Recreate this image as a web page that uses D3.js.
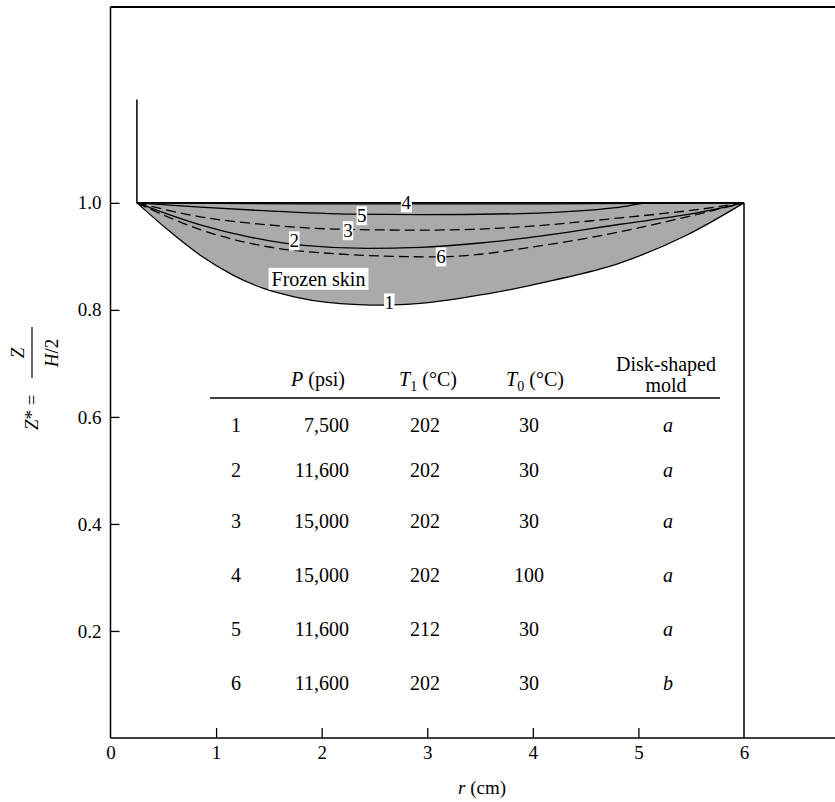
<!DOCTYPE html>
<html>
<head>
<meta charset="utf-8">
<script src="https://cdn.jsdelivr.net/npm/d3@7"></script>
<style>
  body { margin: 0; background: #fff; }
  text { font-family: "Liberation Serif", "Times New Roman", serif; fill: #000; }
</style>
</head>
<body>
<svg id="chart" width="835" height="802"></svg>
<script>
// Axis ticks
const rTicks = [0, 1, 2, 3, 4, 5, 6];
const zTicks = [0.2, 0.4, 0.6, 0.8, 1.0];

// Mold geometry (r in cm, Z* dimensionless)
const gateR = 0.25;
const gateTopZ = 1.193;
const wallR = 6.0;

// Frozen-skin boundaries, [r, Z*]
const curve1 = [[0.25,1.0],[0.54,0.950],[0.85,0.902],[1.16,0.865],[1.45,0.840],[1.75,0.824],[2.05,0.814],[2.35,0.810],[2.60,0.809],[2.93,0.812],[3.57,0.830],[4.19,0.855],[4.83,0.888],[5.46,0.940],[6.0,1.0]];
const curve2 = [[0.25,1.0],[0.85,0.959],[1.32,0.936],[1.80,0.921],[2.43,0.915],[2.93,0.917],[3.50,0.925],[3.88,0.933],[4.83,0.960],[5.60,0.983],[6.0,1.0]];
const curve3 = [[0.25,1.0],[0.85,0.974],[1.49,0.959],[2.12,0.951],[2.93,0.949],[3.50,0.951],[3.88,0.955],[4.83,0.972],[5.58,0.988],[6.0,1.0]];
const curve4 = [[0.25,1.0],[1.0,0.999],[2.0,0.998],[3.0,0.998],[4.0,0.998],[5.0,0.999],[6.0,1.0]];
const curve5 = [[0.25,1.0],[0.85,0.992],[1.49,0.985],[2.30,0.979],[2.93,0.978],[3.88,0.980],[4.51,0.986],[4.83,0.992],[5.11,1.0],[6.0,1.0]];
const curve6 = [[0.25,1.0],[0.85,0.950],[1.49,0.918],[2.12,0.905],[3.07,0.899],[3.50,0.904],[3.88,0.914],[4.83,0.946],[5.46,0.974],[6.0,1.0]];

// Curve tags and where they sit
const tagIds = ["4", "5", "3", "2", "6", "1"];
const tagR   = [2.80, 2.38, 2.25, 1.74, 3.13, 2.64];
const tagZ   = [1.000, 0.976, 0.948, 0.929, 0.899, 0.813];
const skinLabel = "Frozen skin";
const skinR = 1.97, skinZ = 0.858;

// Run conditions table
const runs     = ["1", "2", "3", "4", "5", "6"];
const pressure = ["7,500", "11,600", "15,000", "15,000", "11,600", "11,600"];
const tMelt    = ["202", "202", "202", "202", "212", "202"];
const tMold    = ["30", "30", "30", "100", "30", "30"];
const moldType = ["a", "a", "a", "a", "a", "b"];

const W = 835, H = 802;
const svg = d3.select("#chart");

const x = d3.scaleLinear().domain([0, 6]).range([110.5, 744]);
const y = d3.scaleLinear().domain([0, 1.366]).range([738, 7]);

// Frozen skin region
const area = d3.area()
  .x(d => x(d[0]))
  .y0(y(1))
  .y1(d => y(d[1]))
  .curve(d3.curveMonotoneX);
svg.append("path").datum(curve1)
  .attr("d", area)
  .attr("fill", "#aaaaaa");

// Boundary curves
const line = d3.line()
  .x(d => x(d[0]))
  .y(d => y(d[1]))
  .curve(d3.curveMonotoneX);
const curves = [
  {pts: curve1, dash: null},
  {pts: curve2, dash: null},
  {pts: curve3, dash: "10,5"},
  {pts: curve4, dash: null},
  {pts: curve5, dash: null},
  {pts: curve6, dash: "10,5"}
];
svg.append("g").selectAll("path").data(curves).join("path")
  .attr("d", d => line(d.pts))
  .attr("fill", "none")
  .attr("stroke", "#000")
  .attr("stroke-width", 1.3)
  .attr("stroke-dasharray", d => d.dash);

// Mold outline: top face, gate and end wall
const g = svg.append("g").attr("stroke", "#000").attr("fill", "none");
g.append("line").attr("x1", x(gateR)).attr("x2", x(wallR)).attr("y1", y(1)).attr("y2", y(1)).attr("stroke-width", 1.5);
g.append("line").attr("x1", x(gateR)).attr("x2", x(gateR)).attr("y1", y(1)).attr("y2", y(gateTopZ)).attr("stroke-width", 1.5);
g.append("line").attr("x1", x(wallR)).attr("x2", x(wallR)).attr("y1", y(0)).attr("y2", y(1)).attr("stroke-width", 1.5);

// Frame
g.append("line").attr("x1", x(0)).attr("x2", x(0)).attr("y1", y(0)).attr("y2", y(1.366)).attr("stroke-width", 1.5);
g.append("line").attr("x1", x(0)).attr("x2", W).attr("y1", y(1.366)).attr("y2", y(1.366)).attr("stroke-width", 1.8);
g.append("line").attr("x1", x(0)).attr("x2", W).attr("y1", y(0)).attr("y2", y(0)).attr("stroke-width", 1.5);

// Axes
const xAxis = svg.append("g")
  .attr("transform", `translate(0,${y(0)})`)
  .call(d3.axisBottom(x).tickValues(rTicks).tickSize(-10).tickPadding(8).tickFormat(d3.format("d")));
xAxis.select(".domain").remove();
xAxis.selectAll(".tick line").attr("stroke", "#000").attr("stroke-width", 1.3)
  .filter(d => d === 0 || d === 6).remove();
xAxis.selectAll(".tick text").attr("font-size", 19).attr("font-family", "Liberation Serif");

const yAxis = svg.append("g")
  .attr("transform", `translate(${x(0)},0)`)
  .call(d3.axisLeft(y).tickValues(zTicks).tickSize(-9).tickPadding(9).tickFormat(d3.format(".1f")));
yAxis.select(".domain").remove();
yAxis.selectAll(".tick line").attr("stroke", "#000").attr("stroke-width", 1.3);
yAxis.selectAll(".tick text").attr("font-size", 19).attr("font-family", "Liberation Serif");

// Axis titles
const xt = svg.append("text")
  .attr("x", 482).attr("y", 794)
  .attr("text-anchor", "middle").attr("font-size", 19);
xt.append("tspan").attr("font-style", "italic").text("r");
xt.append("tspan").text(" (cm)");

const yt = svg.append("g").attr("transform", "translate(32,430) rotate(-90)");
const yl = yt.append("text").attr("x", 0).attr("y", 6).attr("font-size", 19);
yl.append("tspan").attr("font-style", "italic").text("Z");
yl.append("tspan").text("* =");
yt.append("line").attr("x1", 52).attr("x2", 103).attr("y1", 0).attr("y2", 0)
  .attr("stroke", "#000").attr("stroke-width", 1.2);
yt.append("text").attr("x", 77).attr("y", -8).attr("text-anchor", "middle")
  .attr("font-size", 19).attr("font-style", "italic").text("Z");
const den = yt.append("text").attr("x", 77).attr("y", 26).attr("text-anchor", "middle").attr("font-size", 19);
den.append("tspan").attr("font-style", "italic").text("H");
den.append("tspan").text("/2");

// Boxed labels on the curves
function boxedLabel(cx, cy, txt, size, padX, padY) {
  const grp = svg.append("g");
  const t = grp.append("text")
    .attr("x", cx).attr("y", cy)
    .attr("text-anchor", "middle")
    .attr("dominant-baseline", "central")
    .attr("font-size", size)
    .text(txt);
  const b = t.node().getBBox();
  grp.insert("rect", "text")
    .attr("x", b.x - padX).attr("y", b.y - padY)
    .attr("width", b.width + 2 * padX).attr("height", b.height + 2 * padY)
    .attr("fill", "#fff");
}
tagIds.forEach((id, i) => boxedLabel(x(tagR[i]), y(tagZ[i]), id, 19, 0.5, -1));
boxedLabel(x(skinR), y(skinZ), skinLabel, 20, 3, 0);

// Run conditions table
const rowY = d3.scaleOrdinal().domain(runs).range([432, 477, 528, 582, 636, 690]);
const tbl = svg.append("g").attr("font-size", 20);
const colRun = 236, colP = 349, colT1 = 425, colT0 = 529, colMold = 668;

const hP = tbl.append("text").attr("x", 318).attr("y", 386).attr("text-anchor", "middle").attr("font-size", 20);
hP.append("tspan").attr("font-style", "italic").text("P");
hP.append("tspan").text(" (psi)");
function tempHeader(cx, sub) {
  const h = tbl.append("text").attr("x", cx).attr("y", 386).attr("text-anchor", "middle").attr("font-size", 20);
  h.append("tspan").attr("font-style", "italic").text("T");
  h.append("tspan").attr("font-size", 14).attr("dy", 5).text(sub);
  h.append("tspan").attr("dy", -5).text(" (°C)");
}
tempHeader(428, "1");
tempHeader(535, "0");
tbl.append("text").attr("x", 666).attr("y", 371).attr("text-anchor", "middle").attr("font-size", 20).text("Disk-shaped");
tbl.append("text").attr("x", 666).attr("y", 392).attr("text-anchor", "middle").attr("font-size", 20).text("mold");
tbl.append("line").attr("x1", 210).attr("x2", 720).attr("y1", 398).attr("y2", 398)
  .attr("stroke", "#000").attr("stroke-width", 1.5);

const rows = tbl.selectAll("g.row").data(runs).join("g").attr("class", "row");
rows.append("text").attr("x", colRun).attr("y", d => rowY(d)).attr("text-anchor", "middle").attr("font-size", 20).text(d => d);
rows.append("text").attr("x", colP).attr("y", d => rowY(d)).attr("text-anchor", "end").attr("font-size", 20).text((d, i) => pressure[i]);
rows.append("text").attr("x", colT1).attr("y", d => rowY(d)).attr("text-anchor", "middle").attr("font-size", 20).text((d, i) => tMelt[i]);
rows.append("text").attr("x", colT0).attr("y", d => rowY(d)).attr("text-anchor", "middle").attr("font-size", 20).text((d, i) => tMold[i]);
rows.append("text").attr("x", colMold).attr("y", d => rowY(d)).attr("text-anchor", "middle").attr("font-size", 20).attr("font-style", "italic").text((d, i) => moldType[i]);
</script>
</body>
</html>
